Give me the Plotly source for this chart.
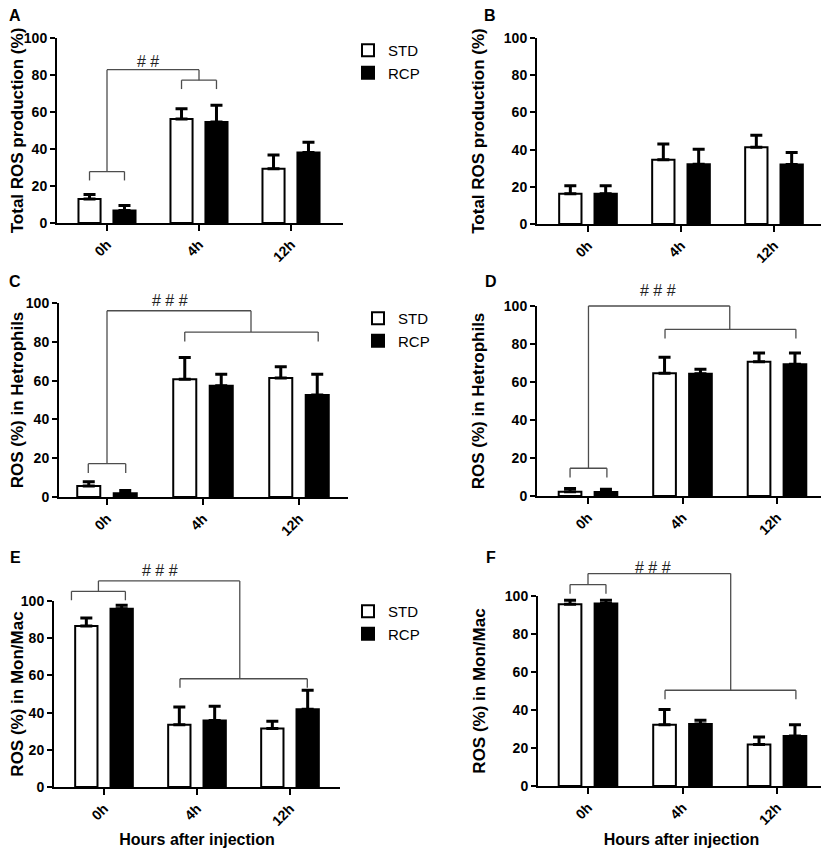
import plotly.graph_objects as go

# ---------------- data ----------------
categories = ["0h", "4h", "12h"]
series_names = ["STD", "RCP"]

a_std = [13.0, 56.2, 29.3]
a_std_err = [2.4, 5.6, 7.5]
a_rcp = [6.8, 54.6, 38.1]
a_rcp_err = [2.7, 9.1, 5.5]

b_std = [16.3, 34.5, 41.3]
b_std_err = [4.2, 8.5, 6.4]
b_rcp = [16.3, 32.1, 32.0]
b_rcp_err = [4.2, 8.1, 6.4]

c_std = [5.7, 60.7, 61.4]
c_std_err = [2.1, 11.2, 5.8]
c_rcp = [1.9, 57.4, 52.6]
c_rcp_err = [1.5, 5.9, 10.7]

d_std = [2.3, 64.6, 70.7]
d_std_err = [1.7, 8.4, 4.6]
d_rcp = [2.1, 64.4, 69.3]
d_rcp_err = [1.4, 2.3, 6.0]

e_std = [86.6, 33.5, 31.4]
e_std_err = [4.3, 9.5, 3.9]
e_rcp = [95.9, 35.8, 41.8]
e_rcp_err = [1.8, 7.6, 10.2]

f_std = [95.6, 32.3, 21.9]
f_std_err = [2.1, 7.9, 3.9]
f_rcp = [96.0, 32.6, 26.3]
f_rcp_err = [1.7, 2.0, 6.0]

y_ticks = [0, 20, 40, 60, 80, 100]
sig_labels = {"A": "# #", "C": "# # #", "D": "# # #", "E": "# # #", "F": "# # #"}

# ---------------- layout / style ----------------
# The page body has an 8px margin, so the figure is drawn 8px in from the
# window corner; reference pixel positions are converted accordingly.
PAGE_OFF = 8
W, H = 829 - PAGE_OFF, 848 - PAGE_OFF


def px_x(px):
    return (px - PAGE_OFF) / W


def px_y(py):
    return 1 - (py - PAGE_OFF) / H


FONT = "Arial, 'Liberation Sans', Helvetica, sans-serif"
YMAX = 100
BAR_W = 0.24
OFF = 0.19
LEG = 4.8
BRACKET_COLOR = "#4d4d4d"

panels = [
    dict(key="A", std=a_std, se=a_std_err, rcp=a_rcp, re=a_rcp_err,
         ytitle="Total ROS production (%)", ax=(57, 343), tk=(107, 291), y0=223, y100=38,
         lab=(15, 16), legend="legend",
         br=dict(l=(-0.19, 0.19, 27.8), r=(0.81, 1.19, 77.2), cr=1.0, top=82.9, tx=0.45, ty=87.5)),
    dict(key="B", std=b_std, se=b_std_err, rcp=b_rcp, re=b_rcp_err,
         ytitle="Total ROS production (%)", ax=(537, 822), tk=(588, 774), y0=224, y100=38,
         lab=(490, 16), legend=None, br=None),
    dict(key="C", std=c_std, se=c_std_err, rcp=c_rcp, re=c_rcp_err,
         ytitle="ROS (%) in Hetrophils", ax=(59, 348), tk=(107, 299), y0=497, y100=303,
         lab=(15, 282), legend="legend2",
         br=dict(l=(-0.195, 0.195, 17.2), r=(0.81, 2.2, 85.0), cr=1.5, top=96.0, tx=0.66, ty=101.5)),
    dict(key="D", std=d_std, se=d_std_err, rcp=d_rcp, re=d_rcp_err,
         ytitle="ROS (%) in Hetrophils", ax=(537, 827), tk=(588, 777), y0=496, y100=306,
         lab=(491, 282), legend=None,
         br=dict(l=(-0.19, 0.2, 14.6), r=(0.815, 2.2, 87.7), cr=1.5, top=100.0, tx=0.74, ty=108.0)),
    dict(key="E", std=e_std, se=e_std_err, rcp=e_rcp, re=e_rcp_err,
         ytitle="ROS (%) in Mon/Mac", ax=(54, 340), tk=(104, 290), y0=787, y100=601,
         lab=(15, 557), legend="legend3",
         br=dict(l=(-0.35, 0.23, 105.2), r=(0.817, 2.186, 58.2), cr=1.46, top=110.8, tx=0.60, ty=116.5),
         xtitle="Hours after injection"),
    dict(key="F", std=f_std, se=f_std_err, rcp=f_rcp, re=f_rcp_err,
         ytitle="ROS (%) in Mon/Mac", ax=(538, 825), tk=(588, 777), y0=786, y100=596,
         lab=(491, 557), legend=None,
         br=dict(l=(-0.19, 0.19, 106.0), r=(0.815, 2.2, 50.4), cr=1.51, top=111.8, tx=0.69, ty=115.2),
         xtitle="Hours after injection"),
]

legend_pos = {"legend": (348, 34), "legend2": (358, 302), "legend3": (348, 595)}

fig = go.Figure()
shapes = []
annotations = []
layout_axes = {}

for i, p in enumerate(panels):
    n = "" if i == 0 else str(i + 1)
    xname, yname = "x" + n, "y" + n
    x_start, x_end = p["ax"]
    t0, t2 = p["tk"]
    sp = (t2 - t0) / 2.0
    xr = [(x_start - t0) / sp, (x_end - t0) / sp]
    ydom = [px_y(p["y0"]), px_y(p["y100"])]
    xdom = [px_x(x_start), px_x(x_end)]

    for s_name, vals, errs, fill, bar_off in (
        ("STD", p["std"], p["se"], "white", -OFF - BAR_W / 2),
        ("RCP", p["rcp"], p["re"], "black", OFF - BAR_W / 2),
    ):
        fig.add_trace(go.Bar(
            x=categories, y=vals, name=s_name,
            xaxis=xname, yaxis=yname,
            width=BAR_W, offset=bar_off,
            marker=dict(color=fill, line=dict(color="black", width=2)),
            error_y=dict(type="data", array=errs, arrayminus=[0] * len(errs), symmetric=False,
                         color="black", thickness=3, width=6),
            showlegend=p["legend"] is not None,
            legend=p["legend"] if p["legend"] else "legend",
            cliponaxis=False,
            hoverinfo="skip",
        ))

    xa = dict(domain=xdom, anchor=yname, range=xr, type="category", automargin=False,
              showline=True, linecolor="black", linewidth=2,
              ticks="outside", ticklen=6, tickwidth=2, tickcolor="black",
              tickangle=-45, showgrid=False, zeroline=False,
              tickfont=dict(family=FONT, size=14, color="black", weight="bold"))
    if p.get("xtitle"):
        xa["title"] = dict(text=p["xtitle"],
                           font=dict(family=FONT, size=16, color="black", weight="bold"))
    ya = dict(domain=ydom, anchor=xname, range=[0, YMAX], automargin=False,
              showline=True, linecolor="black", linewidth=2,
              ticks="outside", ticklen=5, tickwidth=2, tickcolor="black",
              tickvals=y_ticks, showgrid=False, zeroline=False,
              tickfont=dict(family=FONT, size=14, color="black", weight="bold"),
              title=dict(text=p["ytitle"],
                         font=dict(family=FONT, size=17, color="black", weight="bold")))
    layout_axes["xaxis" + n] = xa
    layout_axes["yaxis" + n] = ya

    annotations.append(dict(text="<b>%s</b>" % p["key"], xref="paper", yref="paper",
                            x=px_x(p["lab"][0]), y=px_y(p["lab"][1]), showarrow=False,
                            xanchor="center", yanchor="middle",
                            font=dict(family=FONT, size=16, color="black")))

    br = p["br"]
    if br:
        # brackets sit above the 0-100 axis: use the y-domain reference (value / YMAX)
        ydref = yname + " domain"
        ln = dict(color=BRACKET_COLOR, width=1.3)

        def seg(x0, x1, v0, v1):
            shapes.append(dict(type="line", xref=xname, yref=ydref,
                               x0=x0, x1=x1, y0=v0 / YMAX, y1=v1 / YMAX, line=ln))

        for (xa0, xa1, h) in (br["l"], br["r"]):
            seg(xa0, xa1, h, h)
            seg(xa0, xa0, h, h - LEG)
            seg(xa1, xa1, h, h - LEG)
        cl = (br["l"][0] + br["l"][1]) / 2
        seg(cl, cl, br["l"][2], br["top"])
        seg(cl, br["cr"], br["top"], br["top"])
        seg(br["cr"], br["cr"], br["top"], br["r"][2])
        annotations.append(dict(text=sig_labels[p["key"]], xref=xname, yref=ydref,
                                x=br["tx"], y=br["ty"] / YMAX, showarrow=False,
                                xanchor="center", yanchor="middle",
                                font=dict(family=FONT, size=16, color="#222222")))

for lname, (lx, ly) in legend_pos.items():
    layout_axes[lname] = dict(x=px_x(lx), y=px_y(ly), xanchor="left", yanchor="top",
                              bgcolor="rgba(0,0,0,0)", borderwidth=0,
                              font=dict(family=FONT, size=15, color="black"),
                              tracegroupgap=0, itemclick=False)

fig.update_layout(
    width=W, height=H,
    margin=dict(l=0, r=0, t=0, b=0, autoexpand=False),
    paper_bgcolor="white", plot_bgcolor="white",
    barmode="group",
    font=dict(family=FONT, color="black"),
    shapes=shapes, annotations=annotations,
    **layout_axes,
)

fig.write_html("out.html")
